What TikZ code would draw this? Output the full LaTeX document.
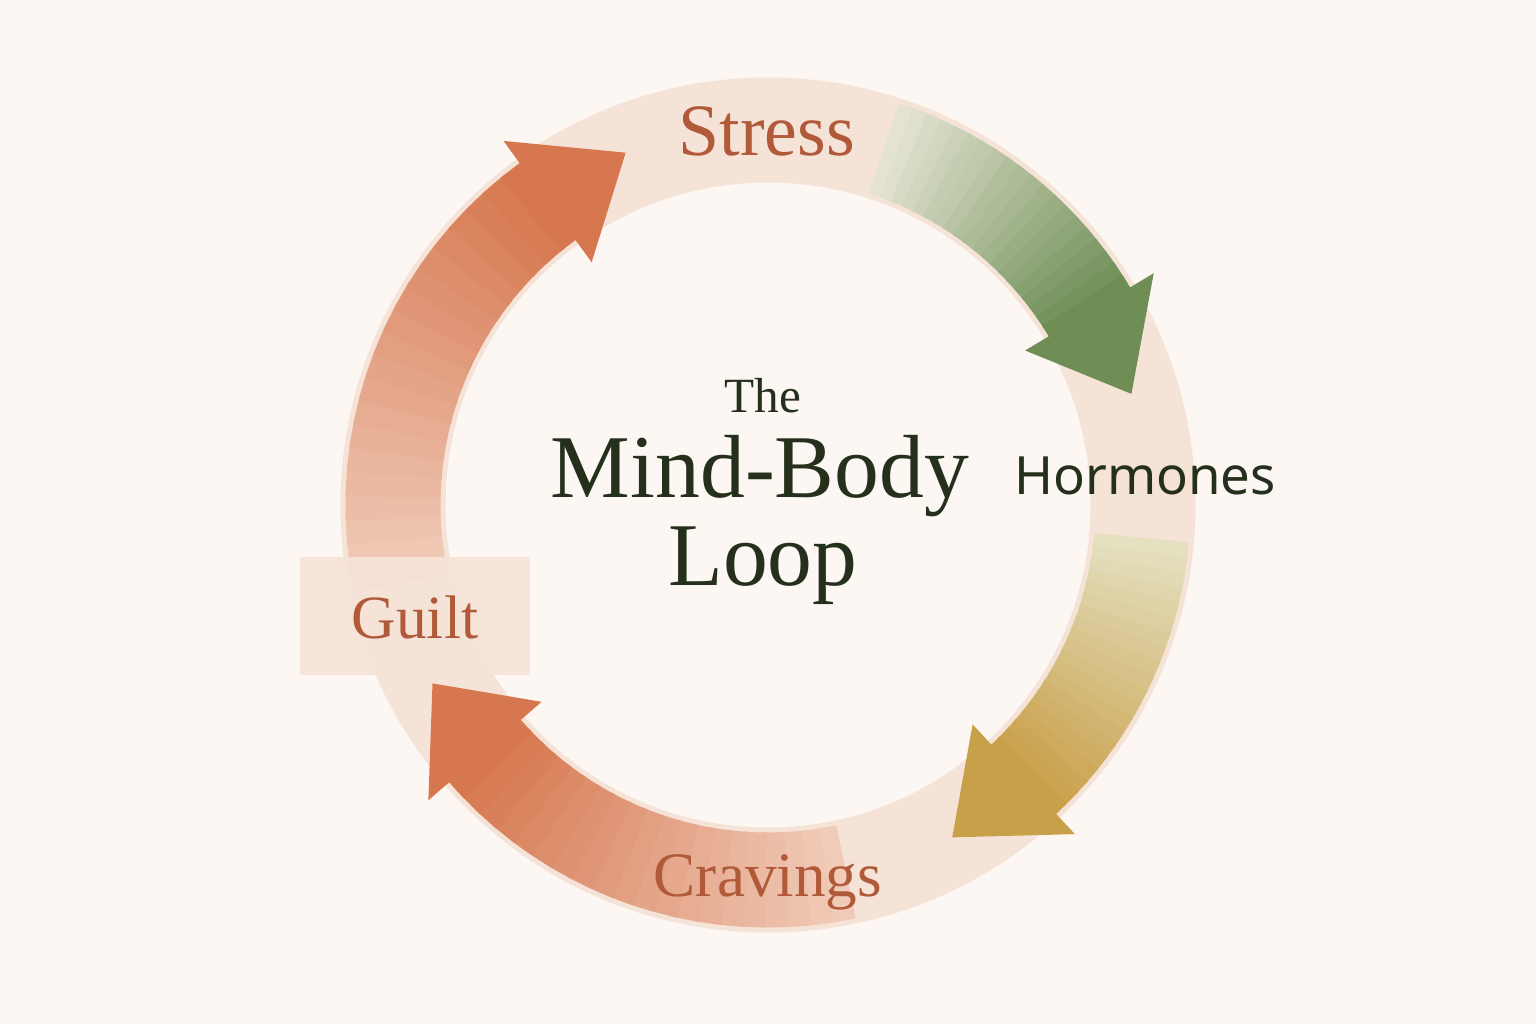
\documentclass[tikz,border=0pt]{standalone}
\usepackage{fontspec}
\setmainfont{Liberation Serif}
\newfontfamily\hormfont{Noto Sans}
\usetikzlibrary{arrows.meta,positioning}
\definecolor{paper}{HTML}{FCF7F2}
\definecolor{ringpale}{HTML}{F6E3D7}
\definecolor{rust}{HTML}{B05A3A}
\definecolor{darkgreen}{HTML}{25301C}
\definecolor{greenA}{HTML}{E4E3D2}
\definecolor{greenB}{HTML}{6E8E55}
\definecolor{yellowA}{HTML}{E4E0C0}
\definecolor{yellowB}{HTML}{C9A04A}
\definecolor{orangeA}{HTML}{F0CBB8}
\definecolor{orangeB}{HTML}{D6774F}
\tikzset{
  ring/.style={line width=1.05cm, draw=ringpale},
  band/.style={line width=0.95cm},
  label/.style={text=rust, anchor=base},
  title/.style={text=darkgreen, anchor=base, font=\fontsize{25.5}{28}\selectfont}
}
% arc from start angle to head base, gradient colA -> colB, head up to tip angle
\newcommand\loopArrow[5]{%
  \foreach \k in {0,...,19}{%
    \pgfmathsetmacro\aS{#1+(#2-#1)*\k/20}
    \pgfmathsetmacro\aE{#1+(#2-#1)*(\k+1.3)/20}
    \pgfmathtruncatemacro\p{100*\k/19}
    \draw[band, draw=#5!\p!#4] ([shift=(\aS:3.75)]c) arc (\aS:\aE:3.75);
  }
  \fill[#5] ([shift=(#2:4.5)]c) -- ([shift=(#3:3.8)]c) -- ([shift=(#2:3.0)]c) -- cycle;
}
\begin{document}
\begin{tikzpicture}
  \fill[paper] (0,0) rectangle (15.36,10.24);
  \useasboundingbox (0,0) rectangle (15.36,10.24);
  \coordinate (c) at (7.68,5.19);
  \draw[ring] (c) circle (3.75);

  \loopArrow{72}{31}{17}{greenA}{greenB}
  \loopArrow{-5}{-47}{-61}{yellowA}{yellowB}
  \loopArrow{-78}{-139}{-152}{orangeA}{orangeB}
  \loopArrow{192}{126}{112}{orangeA}{orangeB}

  \node (stress) [label, font=\fontsize{21}{24}\selectfont] at (7.67,8.68) {Stress};
  \node (horm) [text=darkgreen, anchor=base, font=\hormfont\fontsize{15}{18}\selectfont] at (11.45,5.3) {Hormones};
  \node (cravings) [label, font=\fontsize{18}{21}\selectfont] at (7.68,1.28) {Cravings};
  \node (guiltbox) [fill=ringpale, fill opacity=0.9, minimum width=2.3cm, minimum height=1.18cm] at (4.15,4.08) {};
  \node (guilt) [label, font=\fontsize{17.5}{20}\selectfont] at (4.15,3.86) {Guilt};

  \node (the) [text=darkgreen, anchor=base, font=\fontsize{14}{16}\selectfont] at (7.63,6.12) {The};
  \node (mb) [title] at (7.6,5.27) {Mind-Body};
  \node (loop) [title] at (7.63,4.39) {Loop};
\end{tikzpicture}
\end{document}
